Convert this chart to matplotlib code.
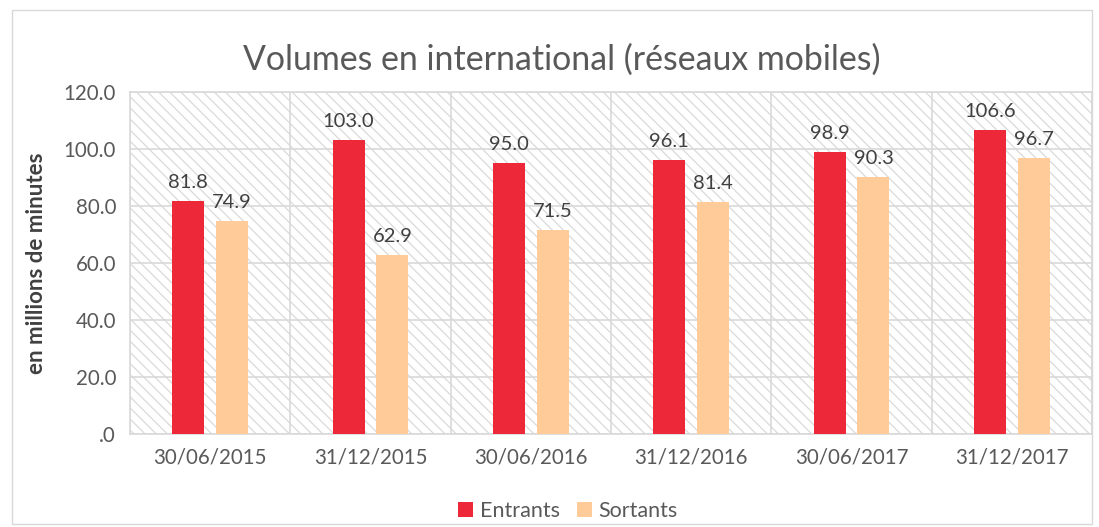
"""Volumes en international (réseaux mobiles) bar chart."""
import numpy as np
import matplotlib
matplotlib.use('Agg')
import matplotlib.pyplot as plt
from matplotlib.patches import Rectangle

dates = ['30/06/2015', '31/12/2015', '30/06/2016', '31/12/2016', '30/06/2017', '31/12/2017']
entrants = [81.8, 103.0, 95.0, 96.1, 98.9, 106.6]
sortants = [74.9, 62.9, 71.5, 81.4, 90.3, 96.7]

RED = '#ED2939'
PEACH = '#FFCC99'
TEXT = '#595959'
GRID = '#D9D9D9'


def main():
    plt.rcParams['font.family'] = ['Lato', 'DejaVu Sans']
    plt.rcParams['hatch.color'] = '#DADADA'
    plt.rcParams['hatch.linewidth'] = 0.9

    fig = plt.figure(figsize=(10.99, 5.27), dpi=100)
    ax = fig.add_axes([130 / 1099, 1 - 434 / 527, 962 / 1099, 342 / 527])

    # outer chart border
    fig.patches.append(Rectangle((12 / 1099, 3 / 527), 1080 / 1099, 514 / 527,
                                 transform=fig.transFigure, fill=False,
                                 edgecolor=GRID, linewidth=1))

    x = np.arange(len(dates))
    ax.set_xlim(-0.5, len(dates) - 0.5)
    ax.set_ylim(0, 120)

    # hatched background
    ax.add_patch(Rectangle((-0.5, 0), len(dates), 120, facecolor='white',
                           edgecolor='#DADADA', hatch='\\\\\\', linewidth=0, zorder=0))

    w = 0.2
    off = 0.137
    b1 = ax.bar(x - off, entrants, w, color=RED, label='Entrants', zorder=3)
    b2 = ax.bar(x + off, sortants, w, color=PEACH, label='Sortants', zorder=3)
    for bars, vals in ((b1, entrants), (b2, sortants)):
        for r, v in zip(bars, vals):
            ax.text(r.get_x() + r.get_width() / 2, v + 3.5, f'{v:.1f}',
                    ha='center', va='bottom', fontsize=14.5, color='#404040', zorder=4)

    ax.set_yticks(np.arange(0, 121, 20))
    ax.set_yticklabels(['.0'] + [f'{v:.1f}' for v in range(20, 121, 20)])
    ax.set_xticks(x)
    ax.set_xticklabels(dates)
    ax.set_xticks(np.arange(-0.5, len(dates), 1), minor=True)
    ax.tick_params(axis='both', which='both', length=0, labelsize=14.8,
                   labelcolor=TEXT, pad=10)
    ax.grid(True, axis='y', color=GRID, linewidth=1.2, zorder=1)
    ax.grid(True, axis='x', which='minor', color=GRID, linewidth=1.2, zorder=1)
    ax.grid(False, axis='x', which='major')
    for s in ax.spines.values():
        s.set_color(GRID)
        s.set_linewidth(1.2)

    ax.set_ylabel('en millions de minutes', fontsize=16, fontweight='bold',
                  color='#404040', labelpad=12)
    fig.text(562 / 1099, 1 - 60 / 527, 'Volumes en international (réseaux mobiles)',
             ha='center', va='center', fontsize=24.4, color=TEXT)

    fig.legend(handles=[b1, b2], loc='center', bbox_to_anchor=(568 / 1099, 1 - 511 / 527),
               ncol=2, frameon=False, fontsize=15.5, labelcolor=TEXT,
               handlelength=0.7, handleheight=0.7, handletextpad=0.3, columnspacing=0.8)

    fig.savefig('out.png', dpi=100)
    plt.close(fig)


if __name__ == '__main__':
    main()
